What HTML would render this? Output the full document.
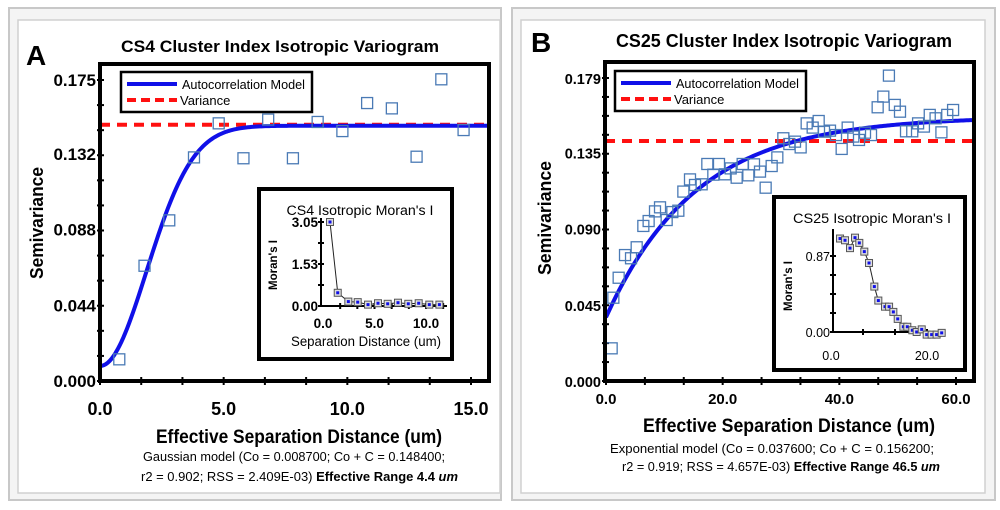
<!DOCTYPE html>
<html><head><meta charset="utf-8">
<style>
html,body{margin:0;padding:0;background:#fff;}
svg{display:block;font-family:"Liberation Sans",sans-serif;}
</style></head>
<body>
<svg id="fig" width="1000" height="510" viewBox="0 0 1000 510" xmlns="http://www.w3.org/2000/svg">
  <rect x="0" y="0" width="1000" height="510" fill="#fff"/>
  <rect x="9" y="8" width="492" height="492" fill="#f4f4f4" stroke="#c8c8c8" stroke-width="2"/>
  <rect x="18" y="20" width="482" height="473" fill="#fff" stroke="#d0d0d0" stroke-width="1.5"/>
  <rect x="512" y="8" width="483" height="492" fill="#f4f4f4" stroke="#c8c8c8" stroke-width="2"/>
  <rect x="521" y="20" width="464" height="473" fill="#fff" stroke="#d0d0d0" stroke-width="1.5"/>

  <text x="26" y="65" font-size="28" font-weight="bold">A</text>
  <text x="280" y="52" font-size="17" font-weight="bold" text-anchor="middle" textLength="318" lengthAdjust="spacingAndGlyphs">CS4 Cluster Index Isotropic Variogram</text>
  <text transform="translate(43,223) rotate(-90)" font-size="18" font-weight="bold" text-anchor="middle" textLength="112" lengthAdjust="spacingAndGlyphs">Semivariance</text>
  <text x="299" y="443" font-size="19" font-weight="bold" text-anchor="middle" textLength="286" lengthAdjust="spacingAndGlyphs">Effective Separation Distance (um)</text>
  <text x="294" y="461" font-size="12.5" text-anchor="middle" textLength="302" lengthAdjust="spacingAndGlyphs">Gaussian model (Co = 0.008700; Co + C = 0.148400;</text>
  <text x="141" y="481" font-size="12.5" textLength="317" lengthAdjust="spacingAndGlyphs">r2 = 0.902; RSS = 2.409E-03) <tspan font-weight="bold">Effective Range 4.4 <tspan font-style="italic">um</tspan></tspan></text>

  <text x="531" y="52" font-size="28" font-weight="bold">B</text>
  <text x="784" y="47" font-size="18" font-weight="bold" text-anchor="middle" textLength="336" lengthAdjust="spacingAndGlyphs">CS25 Cluster Index Isotropic Variogram</text>
  <text transform="translate(551,218) rotate(-90)" font-size="18" font-weight="bold" text-anchor="middle" textLength="114" lengthAdjust="spacingAndGlyphs">Semivariance</text>
  <text x="789" y="432" font-size="19" font-weight="bold" text-anchor="middle" textLength="292" lengthAdjust="spacingAndGlyphs">Effective Separation Distance (um)</text>
  <text x="772" y="453" font-size="12.5" text-anchor="middle" textLength="324" lengthAdjust="spacingAndGlyphs">Exponential model (Co = 0.037600; Co + C = 0.156200;</text>
  <text x="622" y="471" font-size="12.5" textLength="318" lengthAdjust="spacingAndGlyphs">r2 = 0.919; RSS = 4.657E-03) <tspan font-weight="bold">Effective Range 46.5 <tspan font-style="italic">um</tspan></tspan></text>

  <g id="gA"></g>
  <g id="gB"></g>
</svg>
<script>
// ---- Panel A data ----
const aDist = [0.78,1.8,2.8,3.8,4.8,5.8,6.8,7.8,8.8,9.8,10.8,11.8,12.8,13.8,14.7];
const aSemi = [0.0126,0.067,0.0934,0.130,0.1498,0.1295,0.152,0.1295,0.1506,0.1453,0.1616,0.1585,0.1304,0.1754,0.1459];
const aXTicks = [0,5,10,15];
const aXTickLabels = ["0.0","5.0","10.0","15.0"];
const aYTicks = [0,0.044,0.088,0.132,0.175];
const aYTickLabels = ["0.000","0.044","0.088","0.132","0.175"];
const aModel = {co:0.0087, sill:0.1484, range:4.6};
const aVariance = 0.1490;
const aMoranDist = [0.68,1.43,2.46,3.37,4.37,5.34,6.28,7.28,8.28,9.29,10.32,11.3];
const aMoranVal = [3.05,0.48,0.16,0.14,0.05,0.10,0.08,0.12,0.08,0.10,0.05,0.05];
const aMoranYTicks = [0,1.53,3.05];
const aMoranYLabels = ["0.00","1.53","3.05"];
const aMoranXTicks = [0,5,10];
const aMoranXLabels = ["0.0","5.0","10.0"];

// ---- Panel B data ----
const bDist = [0.97,1.26,2.17,3.26,4.29,5.26,6.4,7.31,8.4,9.26,10.4,11.37,12.4,13.26,14.4,15.26,16.4,17.37,18.4,19.37,20.4,21.37,22.4,23.43,24.4,25.37,26.4,27.37,28.4,29.37,30.4,31.43,32.4,33.37,34.4,35.43,36.46,37.37,38.4,39.43,40.4,41.43,42.4,43.37,44.4,45.43,46.57,47.54,48.5,49.5,50.4,51.43,52.5,53.5,54.5,55.5,56.5,57.5,58.5,59.5];
const bSemi = [0.0193,0.0492,0.061,0.0744,0.0725,0.079,0.0916,0.0945,0.1002,0.1026,0.0951,0.0998,0.1006,0.1119,0.1191,0.1158,0.1162,0.1282,0.1219,0.1282,0.1221,0.1256,0.1201,0.1282,0.1215,0.128,0.1237,0.1142,0.127,0.1321,0.1434,0.14,0.1414,0.138,0.1522,0.1497,0.1536,0.1473,0.1479,0.1453,0.1371,0.1497,0.1444,0.1424,0.1467,0.1453,0.1617,0.168,0.1804,0.1631,0.1591,0.1475,0.1475,0.1522,0.1503,0.1572,0.1552,0.1469,0.1572,0.1601];
const bXTicks = [0,20,40,60];
const bXTickLabels = ["0.0","20.0","40.0","60.0"];
const bYTicks = [0,0.045,0.090,0.135,0.179];
const bYTickLabels = ["0.000","0.045","0.090","0.135","0.179"];
const bModel = {co:0.0376, sill:0.1562, range:46.5};
const bVariance = 0.1418;
const bMoranDist = [1.88,2.92,3.96,5.0,5.9,6.94,7.92,9.03,9.86,11.25,12.1,12.99,13.9,15.07,15.9,16.94,17.85,18.9,19.93,20.97,22.0,23.06];
const bMoranVal = [1.07,1.05,0.96,1.08,1.02,0.92,0.79,0.52,0.36,0.29,0.29,0.23,0.15,0.06,0.06,0.02,0.0,0.03,-0.03,-0.03,-0.03,-0.01];
const bMoranYTicks = [0,0.87];
const bMoranYLabels = ["0.00","0.87"];
const bMoranXTicks = [0,20];
const bMoranXLabels = ["0.0","20.0"];

const NS = "http://www.w3.org/2000/svg";
function mk(parent, tag, attrs, txt){
  const e = document.createElementNS(NS, tag);
  for (const k in attrs) e.setAttribute(k, attrs[k]);
  if (txt !== undefined) e.textContent = txt;
  parent.appendChild(e);
  return e;
}
function lin(d0,d1,p0,p1){ return v => p0 + (v-d0)*(p1-p0)/(d1-d0); }

function drawMain(g, cfg){
  const X = lin(0, cfg.xMaxTick, cfg.x0, cfg.xAtMax);
  const Y = lin(0, cfg.yMaxTick, cfg.y0, cfg.yAtMax);
  const clip = mk(g,"clipPath",{id:cfg.id+"clip"});
  mk(clip,"rect",{x:cfg.bx,y:cfg.by,width:cfg.bw,height:cfg.bh});
  for (let i=0;i<=cfg.yMinorN;i++){
    const y = Y(cfg.yMaxTick*i/cfg.yMinorN);
    if (y < cfg.by) continue;
    const t = mk(g,"line",{x1:cfg.bx-3,x2:cfg.bx+4,y1:y,y2:y,stroke:"#000","stroke-width":2});
    
    
  }
  for (let i=0;i<=cfg.xMinorN;i++){
    const x = X(cfg.xMinorStep*i);
    if (x > cfg.bx+cfg.bw) continue;
    const t = mk(g,"line",{x1:x,x2:x,y1:cfg.by+cfg.bh-4,y2:cfg.by+cfg.bh+4,stroke:"#000","stroke-width":2});
    
    
  }
  cfg.yTicks.forEach((v,i)=>{
    const t = mk(g,"text",{x:cfg.bx-4,y:Y(v)+6,"font-size":cfg.tickFs,"font-weight":"bold","text-anchor":"end"},cfg.yLabels[i]);
    
    
  });
  cfg.xTicks.forEach((v,i)=>{
    const t = mk(g,"text",{x:X(v),y:cfg.xLabelY,"font-size":cfg.xTickFs,"font-weight":"bold","text-anchor":"middle"},cfg.xLabels[i]);
    
    
  });
  const pg = mk(g,"g",{"clip-path":"url(#"+cfg.id+"clip)"});
  const vl = mk(pg,"line",{x1:cfg.bx,x2:cfg.bx+cfg.bw,y1:Y(cfg.variance),y2:Y(cfg.variance),stroke:"#ff1010","stroke-width":4,"stroke-dasharray":"10,7"});
  
  
  let d="";
  const xmax = (cfg.bx+cfg.bw-cfg.x0)/(cfg.xAtMax-cfg.x0)*cfg.xMaxTick;
  for (let i=0;i<=200;i++){
    const h = xmax*i/200;
    const v = cfg.model(h);
    d += (i?"L":"M")+X(h).toFixed(2)+","+Y(v).toFixed(2);
  }
  const cv = mk(pg,"path",{d:d,fill:"none",stroke:"#1010e8","stroke-width":4});
  
  
  cfg.dist.forEach((h,i)=>{
    const r = mk(g,"rect",{x:X(h)-5.5,y:Y(cfg.semi[i])-5.5,width:11,height:11,fill:"none",stroke:"#4a7ab5","stroke-width":1.3});
    
    
  });
  const bx = mk(g,"rect",{x:cfg.bx,y:cfg.by,width:cfg.bw,height:cfg.bh,fill:"none",stroke:"#000","stroke-width":4});
  
  
  const L = cfg.leg;
  const lg = mk(g,"g",{});
  
  
  mk(lg,"rect",{x:L.x,y:L.y,width:L.w,height:L.h,fill:"#fff",stroke:"#000","stroke-width":2.5});
  mk(lg,"line",{x1:L.x+6,x2:L.x+56,y1:L.y+12,y2:L.y+12,stroke:"#1010e8","stroke-width":4});
  mk(lg,"line",{x1:L.x+6,x2:L.x+56,y1:L.y+28,y2:L.y+28,stroke:"#ff1010","stroke-width":4,"stroke-dasharray":"9,5"});
  const e1 = mk(lg,"text",{x:L.x+61,y:L.y+17,"font-size":13,textLength:123,lengthAdjust:"spacingAndGlyphs"},"Autocorrelation Model");
  
  
  const e2 = mk(lg,"text",{x:L.x+59,y:L.y+33,"font-size":13},"Variance");
  
  
}

function drawInset(g, c){
  const ig = mk(g,"g",{});
  
  
  mk(ig,"rect",{x:c.bx,y:c.by,width:c.bw,height:c.bh,fill:"#fff",stroke:"#000","stroke-width":4});
  const t = mk(ig,"text",{x:c.titleX,y:c.by+26,"font-size":13.5,"text-anchor":"middle",textLength:c.titleW,lengthAdjust:"spacingAndGlyphs"},c.title);
  
  
  const X = lin(0,c.xMaxTick,c.x0,c.xAtMax);
  const Y = lin(0,c.yTop,c.y0,c.yAtTop);
  mk(ig,"line",{x1:c.ax,x2:c.ax,y1:c.axTop,y2:c.y0,stroke:"#000","stroke-width":2});
  mk(ig,"line",{x1:c.ax,x2:c.axRight,y1:c.y0,y2:c.y0,stroke:"#000","stroke-width":2});
  for (let i=0;i<=c.yMinorN;i++){
    const y = Y(c.yTop*i/c.yMinorN);
    if (y < c.axTop) continue;
    mk(ig,"line",{x1:c.ax-3,x2:c.ax+3,y1:y,y2:y,stroke:"#000","stroke-width":2});
  }
  for (let i=1;i<=c.xMinorN;i++){
    const x = X(c.xMinorStep*i);
    if (x > c.axRight) continue;
    mk(ig,"line",{x1:x,x2:x,y1:c.y0-3,y2:c.y0+3,stroke:"#000","stroke-width":2});
  }
  c.yTicks.forEach((v,i)=>{
    const e = mk(ig,"text",{x:c.ax-3,y:Y(v)+5,"font-size":c.fs,"font-weight":c.fw,"text-anchor":"end"},c.yLabels[i]);
    
    
  });
  c.xTicks.forEach((v,i)=>{
    const e = mk(ig,"text",{x:X(v),y:c.xLabelY,"font-size":c.fs,"font-weight":c.fw,"text-anchor":"middle"},c.xLabels[i]);
    
    
  });
  const yt = mk(ig,"text",{transform:"translate("+c.yTitleX+","+c.yTitleY+") rotate(-90)","font-size":11.5,"font-weight":"bold","text-anchor":"middle"},"Moran's I");
  
  
  if (c.xTitle){
    const xt = mk(ig,"text",{x:c.xTitleX,y:c.xTitleY,"font-size":13.5,"text-anchor":"middle",textLength:150,lengthAdjust:"spacingAndGlyphs"},c.xTitle);
    
    
  }
  let d="";
  c.dist.forEach((h,i)=>{ d += (i?"L":"M")+X(h).toFixed(2)+","+Y(c.val[i]).toFixed(2); });
  const ln = mk(ig,"path",{d:d,fill:"none",stroke:"#222","stroke-width":1});
  
  
  c.dist.forEach((h,i)=>{
    const px = X(h), py = Y(c.val[i]);
    const r = mk(ig,"rect",{x:px-3.5,y:py-3.5,width:7,height:7,fill:"#ddd",stroke:"#555","stroke-width":1});
    
    
    mk(ig,"rect",{x:px-1.5,y:py-1.5,width:3,height:3,fill:"#1010e8"});
  });
}

const gA = document.getElementById("gA");
drawMain(gA,{
  id:"panel-a", bx:100, by:64, bw:389, bh:317,
  x0:100, xMaxTick:15, xAtMax:471, y0:381, yMaxTick:0.175, yAtMax:80,
  yMinorN:12, xMinorN:9, xMinorStep:5/3, tickFs:17, xTickFs:18, xLabelY:415,
  yTicks:aYTicks, yLabels:aYTickLabels, xTicks:aXTicks, xLabels:aXTickLabels,
  variance:aVariance,
  model: h => aModel.co + (aModel.sill-aModel.co)*(1-Math.exp(-3*h*h/(aModel.range*aModel.range))),
  dist:aDist, semi:aSemi,
  leg:{x:121,y:72,w:191,h:40}
});
drawInset(gA,{
  id:"panel-a", bx:259, by:189, bw:193, bh:170, title:"CS4 Isotropic Moran's I", titleX:360, titleW:147,
  x0:323, xMaxTick:10, xAtMax:426, y0:306, yTop:3.05, yAtTop:222,
  ax:321, axTop:218, axRight:447,
  yMinorN:4, xMinorN:8, xMinorStep:5/3,
  yTicks:aMoranYTicks, yLabels:aMoranYLabels, xTicks:aMoranXTicks, xLabels:aMoranXLabels,
  xLabelY:328, fs:13.5, fw:"bold", yTitleX:277, yTitleY:265,
  xTitle:"Separation Distance (um)", xTitleX:366, xTitleY:346,
  dist:aMoranDist, val:aMoranVal
});

const gB = document.getElementById("gB");
drawMain(gB,{
  id:"panel-b", bx:605, by:62, bw:369, bh:319,
  x0:606, xMaxTick:60, xAtMax:956, y0:381, yMaxTick:0.179, yAtMax:78,
  yMinorN:16, xMinorN:9, xMinorStep:20/3, tickFs:14.5, xTickFs:15, xLabelY:404,
  yTicks:bYTicks, yLabels:bYTickLabels, xTicks:bXTicks, xLabels:bXTickLabels,
  variance:bVariance,
  model: h => bModel.co + (bModel.sill-bModel.co)*(1-Math.exp(-3*h/bModel.range)),
  dist:bDist, semi:bSemi,
  leg:{x:615,y:71,w:191,h:40}
});
drawInset(gB,{
  id:"panel-b", bx:774, by:197, bw:191, bh:173, title:"CS25 Isotropic Moran's I", titleX:872, titleW:158,
  x0:831, xMaxTick:20, xAtMax:927, y0:332, yTop:0.87, yAtTop:256,
  ax:833, axTop:229, axRight:944,
  yMinorN:4, xMinorN:3, xMinorStep:20/3,
  yTicks:bMoranYTicks, yLabels:bMoranYLabels, xTicks:bMoranXTicks, xLabels:bMoranXLabels,
  xLabelY:360, fs:12.5, fw:"normal", yTitleX:792, yTitleY:286,
  xTitle:"", dist:bMoranDist, val:bMoranVal
});
</script>
</body></html>
